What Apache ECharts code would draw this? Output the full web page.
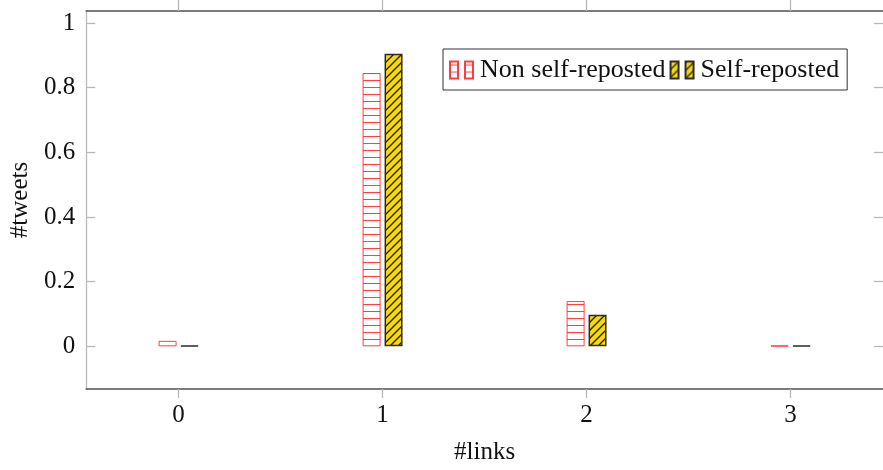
<!DOCTYPE html>
<html>
<head>
<meta charset="utf-8">
<script src="https://cdn.jsdelivr.net/npm/echarts@6/dist/echarts.min.js"></script>
<style>
  html, body { margin: 0; padding: 0; background: #fff; }
  #chart { width: 883px; height: 470px; }
</style>
</head>
<body>
<div id="chart"></div>
<script>
// Share of tweets by number of links
const linkCounts = [0, 1, 2, 3];
const nonSelfReposted = [0.017, 0.845, 0.140, 0.002];
const selfReposted = [0.002, 0.905, 0.098, 0.002];
const seriesNames = ['Non self-reposted', 'Self-reposted'];
const yTickValues = [0, 0.2, 0.4, 0.6, 0.8, 1];
const xTickValues = [0, 1, 2, 3];

const FONT = '"Liberation Serif", "Times New Roman", serif';

// Fill patterns: horizontal red lines, and black north-east hatching on gold
function makeHLines() {
  const c = document.createElement('canvas');
  c.width = 8; c.height = 7;
  const g = c.getContext('2d');
  g.fillStyle = '#ffffff';
  g.fillRect(0, 0, 8, 7);
  g.strokeStyle = 'rgba(255,30,30,0.85)';
  g.lineWidth = 1;
  g.beginPath();
  g.moveTo(0, 3.5); g.lineTo(8, 3.5);
  g.stroke();
  return c;
}
function makeNELines() {
  const s = 8;
  const c = document.createElement('canvas');
  c.width = s; c.height = s;
  const g = c.getContext('2d');
  g.fillStyle = '#f7d80c';
  g.fillRect(0, 0, s, s);
  g.strokeStyle = '#1a1a1a';
  g.lineWidth = 1.3;
  g.beginPath();
  g.moveTo(-1, s + 1); g.lineTo(s + 1, -1);
  g.moveTo(-1, 1); g.lineTo(1, -1);
  g.moveTo(s - 1, s + 1); g.lineTo(s + 1, s - 1);
  g.stroke();
  return c;
}

const redStyle = {
  color: { image: makeHLines(), repeat: 'repeat' },
  borderColor: 'rgba(255,40,40,0.9)',
  borderWidth: 1
};
const goldStyle = {
  color: { image: makeNELines(), repeat: 'repeat' },
  borderColor: '#2b2b2b',
  borderWidth: 1.5
};

// legend marker: a pair of small bars
const pairIcon = 'path://M0,0h8v17h-8z M15,0h8v17h-8z';

const chart = echarts.init(document.getElementById('chart'), null, { renderer: 'canvas' });

const lightGray = '#b8b8b8';
const darkLine = '#505050';

chart.setOption({
  animation: false,
  backgroundColor: '#ffffff',
  grid: { left: 85, top: 11, right: -4, bottom: 79, containLabel: false },
  legend: {
    left: 443, top: 49,
    orient: 'horizontal',
    backgroundColor: '#ffffff',
    borderColor: '#333333',
    borderWidth: 1,
    borderRadius: 0,
    padding: [8, 8, 7, 6],
    itemWidth: 23, itemHeight: 17, itemGap: 4,
    icon: pairIcon,
    textStyle: { fontFamily: FONT, fontSize: 26, color: '#111', padding: [0, 0, 0, 2] },
    data: seriesNames
  },
  xAxis: [
    {
      type: 'value', position: 'bottom',
      min: -0.453, max: 3.453,
      name: '#links', nameLocation: 'middle', nameGap: 51,
      nameTextStyle: { fontFamily: FONT, fontSize: 25, color: '#111' },
      axisLine: { show: true, onZero: false, lineStyle: { color: darkLine, width: 1.5 } },
      axisTick: { show: true, inside: false, length: 9, lineStyle: { color: lightGray, width: 1.3 }, customValues: xTickValues },
      axisLabel: { show: true, margin: 14, fontFamily: FONT, fontSize: 25, color: '#111', customValues: xTickValues },
      splitLine: { show: false }
    },
    {
      type: 'value', position: 'top',
      min: -0.453, max: 3.453,
      axisLine: { show: true, onZero: false, lineStyle: { color: darkLine, width: 1.5 } },
      axisTick: { show: true, inside: false, length: 11, lineStyle: { color: lightGray, width: 1.3 }, customValues: xTickValues },
      axisLabel: { show: false },
      splitLine: { show: false }
    }
  ],
  yAxis: [
    {
      type: 'value', position: 'left',
      min: -0.132, max: 1.037,
      name: '#tweets', nameLocation: 'middle', nameGap: 48, nameRotate: 90,
      nameTextStyle: { fontFamily: FONT, fontSize: 25, color: '#111' },
      axisLine: { show: true, onZero: false, lineStyle: { color: lightGray, width: 1.3 } },
      axisTick: { show: true, inside: true, length: 9, lineStyle: { color: lightGray, width: 1.3 }, customValues: yTickValues },
      axisLabel: { show: true, margin: 11, fontFamily: FONT, fontSize: 25, color: '#111', customValues: yTickValues,
        formatter: v => String(Math.round(v * 10) / 10) },
      splitLine: { show: false }
    },
    {
      type: 'value', position: 'right',
      min: -0.132, max: 1.037,
      axisLine: { show: false, onZero: false },
      axisTick: { show: true, inside: true, length: 9, lineStyle: { color: lightGray, width: 1.3 }, customValues: yTickValues },
      axisLabel: { show: false },
      splitLine: { show: false }
    }
  ],
  series: [
    {
      name: seriesNames[0], type: 'bar',
      xAxisIndex: 0, yAxisIndex: 0,
      barWidth: 18, barGap: '22%',
      itemStyle: redStyle,
      data: linkCounts.map((x, i) => [x, nonSelfReposted[i]])
    },
    {
      name: seriesNames[1], type: 'bar',
      xAxisIndex: 0, yAxisIndex: 0,
      barWidth: 18, barGap: '22%',
      itemStyle: goldStyle,
      data: linkCounts.map((x, i) => [x, selfReposted[i]])
    }
  ]
});
</script>
</body>
</html>
